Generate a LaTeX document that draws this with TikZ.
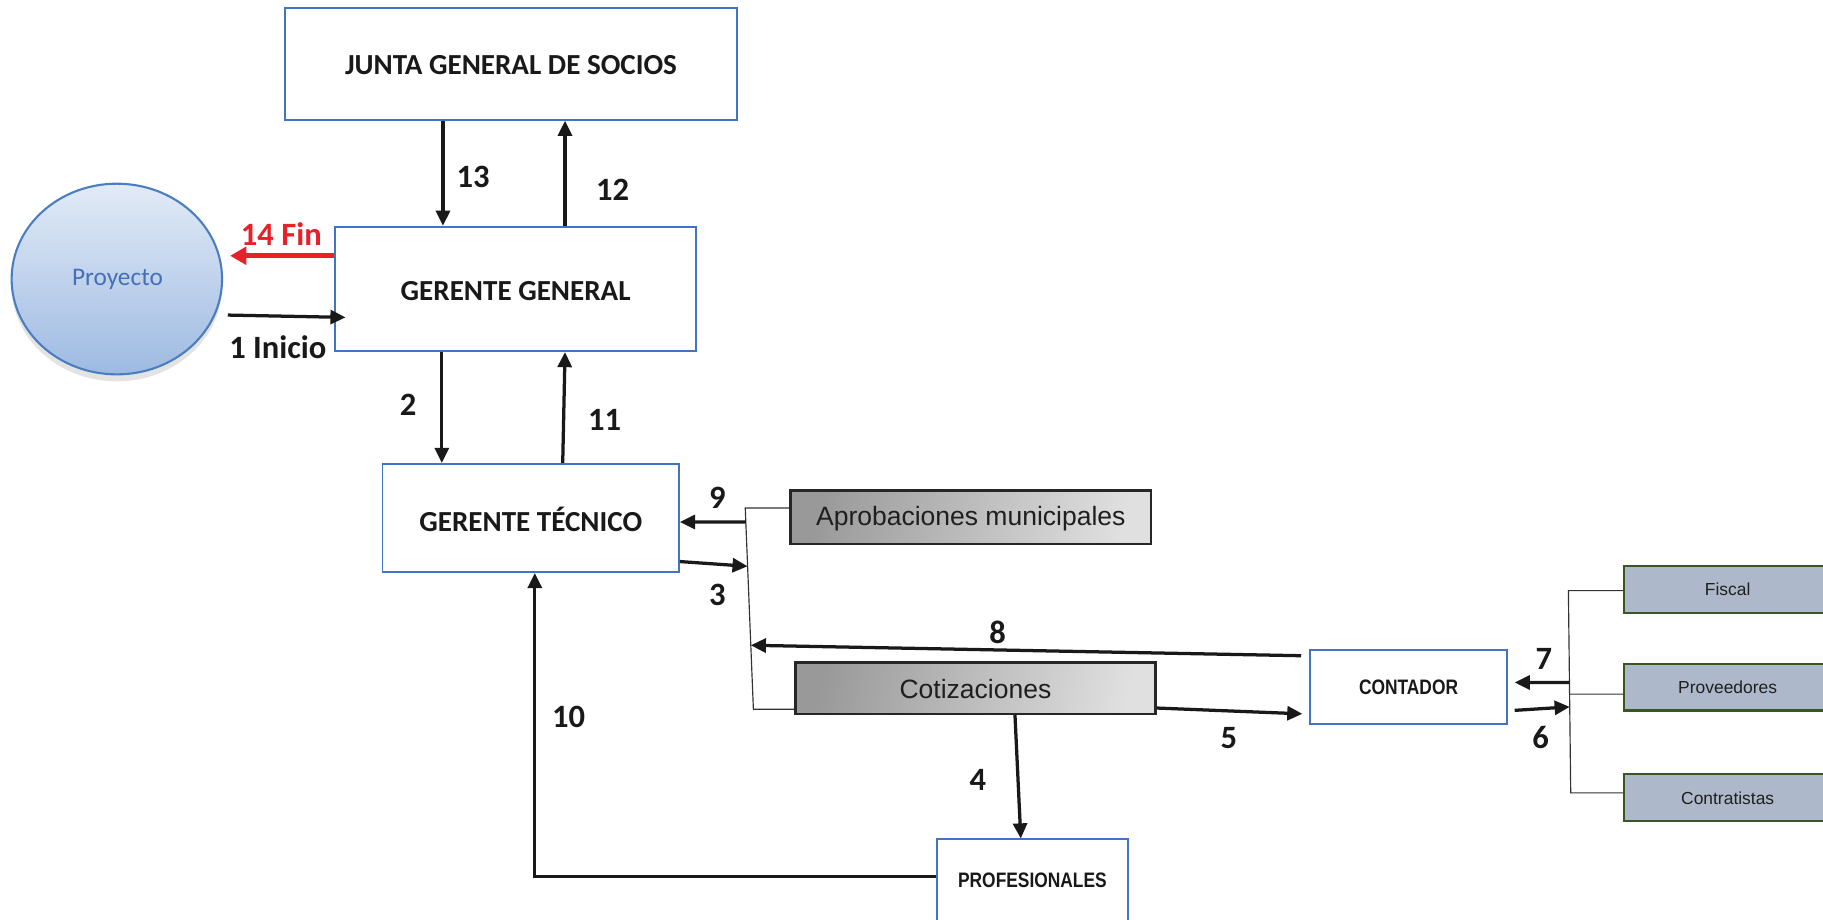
\documentclass[tikz,border=0pt]{standalone}
\usepackage{fontspec}
\setmainfont{Carlito}
\newfontfamily\arialf{Liberation Sans}
\newfontfamily\arialnb[FakeStretch=0.83]{Liberation Sans}
\usetikzlibrary{arrows.meta,fit,shadows,calc,shapes.geometric}
\definecolor{bblue}{RGB}{68,114,196}
\definecolor{redf}{RGB}{232,32,42}
\definecolor{gbord}{RGB}{56,87,35}
\definecolor{gfill}{RGB}{173,185,202}
\definecolor{ptext}{RGB}{70,112,182}
\definecolor{ctop}{RGB}{226,235,247}
\definecolor{cbot}{RGB}{158,186,226}
\definecolor{cbord}{RGB}{74,126,192}
\tikzset{
  bluebox/.style={draw=bblue, line width=0.8pt, fill=white, inner sep=0pt},
  graybox/.style={draw=black!85, line width=1.1pt, shading=axis, top color=black!40, bottom color=black!12, shading angle=78, inner sep=0pt},
  greenbox/.style={draw=gbord, line width=1pt, fill=gfill, inner sep=0pt},
  bigtxt/.style={font=\fontsize{12.5}{13}\selectfont\bfseries, text=black!90},
  ariatxt/.style={font=\arialf\fontsize{11.4}{12}\selectfont, text=black!88},
  smalltxt/.style={font=\arialf\fontsize{7.5}{8}\selectfont, text=black!88},
  narrowtxt/.style={font=\arialnb\bfseries\fontsize{9}{10}\selectfont, text=black!90},
  arr/.style={line width=1.4pt, draw=black!90, -{Triangle[length=6.5pt,width=6pt]}},
  thinln/.style={line width=0.5pt, draw=black!80},
  lbl/.style={font=\fontsize{14}{14}\selectfont\bfseries, text=black!90, inner sep=0pt}
}
\begin{document}
\begin{tikzpicture}[x=0.5pt,y=-0.5pt]
\useasboundingbox (0,0) rectangle (1568,791.3);
\clip (0,0) rectangle (1568,791.3);
\fill[white] (0,0) rectangle (1568,791.3);
% boxes
\node[bluebox, fit={(245,7) (634,103)}] (junta) {};
\node[bluebox, fit={(288,195) (599,302)}] (gg) {};
\node[bluebox, fit={(329,399) (584,492)}] (gt) {};
\node[graybox, fit={(680,422) (990,468)}] (apro) {};
\node[graybox, fit={(684,570) (994,614)}] (coti) {};
\node[bluebox, fit={(1127,559) (1296,623)}] (cont) {};
\node[bluebox, fit={(806,722) (970,792)}] (prof) {};
\node[greenbox, fit={(1397,487) (1575,527)}] (fisc) {};
\node[greenbox, fit={(1397,571) (1575,611)}] (prov) {};
\node[greenbox, fit={(1397,666) (1575,706)}] (contra) {};
\node[ellipse, draw=cbord, line width=0.9pt, top color=ctop, bottom color=cbot,
      minimum width=90.5pt, minimum height=82pt, inner sep=0pt,
      drop shadow={shadow xshift=0pt, shadow yshift=-3pt, opacity=0.22}] (proy) at (100.5,240) {};
% box texts
\node[bigtxt] (tjunta) at (439.5,56) {JUNTA GENERAL DE SOCIOS};
\node[bigtxt] (tgg) at (443.5,250) {GERENTE GENERAL};
\node[bigtxt] (tgt) at (456.5,447) {GERENTE TÉCNICO};
\node[ariatxt] (tapro) at (835,446) {Aprobaciones municipales};
\node[ariatxt] (tcoti) at (839,593) {Cotizaciones};
\node[narrowtxt] (tcont) at (1211.5,591) {CONTADOR};
\node[narrowtxt] (tprof) at (888,757) {PROFESIONALES};
\node[smalltxt] (tfisc) at (1486,507) {Fiscal};
\node[smalltxt] (tprov) at (1486,591) {Proveedores};
\node[smalltxt] (tcontra) at (1486,687) {Contratistas};
\node[font=\fontsize{10.9}{11}\selectfont, text=ptext] (tproy) at (101,240) {Proyecto};
% brackets
\coordinate (bt) at (641,437);
\coordinate (bb) at (648,610);
\draw[thinln] (apro.west |- bt) -- (bt) -- (bb) -- (coti.west |- bb);
\coordinate (rt) at (1349,508);
\coordinate (rb) at (1351,682);
\draw[thinln] (fisc.west |- rt) -- (rt) -- (rb) -- (contra.west |- rb);
\draw[thinln] ($(rt)!(1350,597)!(rb)$) -- (prov.west |- 0,597);
% arrows
\draw[arr] (junta.south -| 381,0) -- (gg.north -| 381,0);
\draw[arr] (gg.north -| 486,0) -- (junta.south -| 486,0);
\draw[line width=2.2pt, draw=redf, -{Triangle[length=7pt,width=7.5pt]}] (gg.west |- 0,220) -- ([xshift=3pt]proy.east |- 0,220);
\draw[arr] ([xshift=2pt]proy.east |- 0,271) -- ([xshift=5pt]gg.west |- 0,273);
\draw[arr] (gg.south -| 380,0) -- (gt.north -| 380,0);
\draw[arr] (gt.north -| 484,0) -- (gg.south -| 486,0);
\draw[arr] ($(bt)!(641,449)!(bb)$) -- (gt.east |- 0,449);
\draw[arr] (gt.east |- 0,483) -- ($(bt)!(645,487)!(bb)$);
\draw[arr] ([xshift=-3.5pt]cont.west |- 0,564) -- ($(bt)!(646,555)!(bb)$);
\draw[arr] (coti.east |- 0,609) -- ([xshift=-3pt]cont.west |- 0,614);
\draw[arr] (coti.south -| 873,0) -- (prof.north -| 878,0);
\coordinate (c10) at (460,754);
\draw[arr] (prof.west |- c10) -- (c10) -- (gt.south -| c10);
\draw[arr] ($(rt)!(1350,587)!(rb)$) -- ([xshift=3pt]cont.east |- 0,587);
\draw[arr] ([xshift=3pt]cont.east |- 0,611) -- ($(rt)!(1350,608)!(rb)$);
% labels
\node[lbl] (l13) at (407,152) {13};
\node[lbl] (l12) at (527,163) {12};
\node[lbl, text=redf] (l14) at (242,201) {14 Fin};
\node[lbl] (l1) at (239,299) {1 Inicio};
\node[lbl] (l2) at (351,348) {2};
\node[lbl] (l11) at (520,361) {11};
\node[lbl] (l9) at (617,428) {9};
\node[lbl] (l3) at (617,512) {3};
\node[lbl] (l8) at (858,544) {8};
\node[lbl] (l5) at (1057,635) {5};
\node[lbl] (l4) at (841,671) {4};
\node[lbl] (l10) at (489,617) {10};
\node[lbl] (l7) at (1328,567) {7};
\node[lbl] (l6) at (1325,634) {6};
\end{tikzpicture}
\end{document}
